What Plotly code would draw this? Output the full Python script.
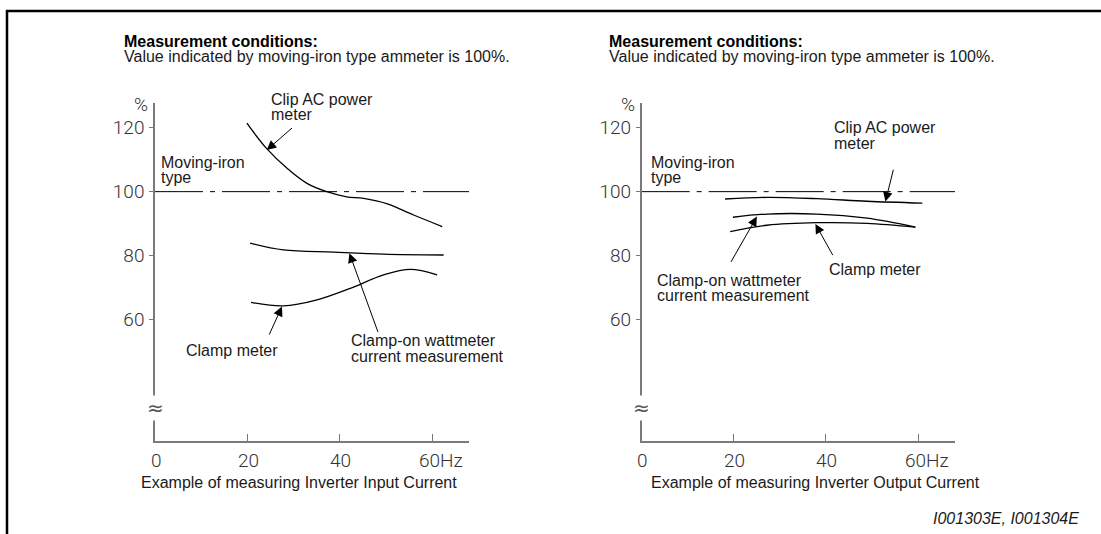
import plotly.graph_objects as go

W, H = 1101, 534

# ---------------- data ----------------
# Left chart: inverter input current
in_clip_x = [19.9, 24.1, 28.6, 32.9, 37.2, 41.5, 45.2, 50.3, 56.0, 62.2]
in_clip_y = [121.4, 113.6, 107.3, 102.6, 100.0, 98.4, 97.9, 96.2, 92.7, 89.1]
in_wattm_x = [20.6, 27.8, 38.7, 49.5, 62.5]
in_wattm_y = [83.9, 81.8, 81.1, 80.5, 80.2]
in_clamp_x = [20.8, 27.8, 35.1, 42.3, 49.5, 55.3, 61.1]
in_clamp_y = [65.4, 64.3, 66.2, 69.8, 74.0, 75.7, 74.0]

# Right chart: inverter output current
out_clip_x = [18.1, 27.2, 38.0, 48.9, 60.9]
out_clip_y = [97.7, 98.2, 97.8, 97.0, 96.4]
out_wattm_x = [19.8, 27.2, 38.0, 48.9, 59.4]
out_wattm_y = [92.0, 93.0, 93.0, 91.7, 88.9]
out_clamp_x = [19.2, 27.2, 38.0, 48.9, 59.4]
out_clamp_y = [87.5, 89.5, 90.3, 90.1, 88.9]

ref_x = [0, 68]
ref_y = [100, 100]

y_tick_vals = [60, 80, 100, 120]
y_tick_text = ["60", "80", "100", "120"]
x_tick_vals = [0, 20, 40, 60]
x_tick_text = ["0", "20", "40", "60Hz"]

Y_RANGE = [22.09, 127.7]
X_RANGE = [0, 68]
BREAK_Y = 32.4

# ---------------- figure ----------------
fig = go.Figure()

AX_COLOR = "#7a7a7a"
TXT = "#1a1a1a"
LBL_FONT = dict(family="Liberation Sans, Arial, sans-serif", size=16, color=TXT)
TICK_FONT = dict(family="Roboto, Liberation Sans, sans-serif", size=19, color="#333333", weight=300)

def add_curve(x, y, xa, ya):
    fig.add_trace(go.Scatter(x=x, y=y, mode="lines", xaxis=xa, yaxis=ya,
                             line=dict(color="black", width=1.3, shape="spline", smoothing=1.0),
                             showlegend=False, hoverinfo="skip"))

for xa, ya in (("x", "y"), ("x2", "y2")):
    fig.add_trace(go.Scatter(x=ref_x, y=ref_y, mode="lines", xaxis=xa, yaxis=ya,
                             line=dict(color="black", width=1, dash="48px,7px,5px,7px"),
                             showlegend=False, hoverinfo="skip"))

add_curve(in_clip_x, in_clip_y, "x", "y")
add_curve(in_wattm_x, in_wattm_y, "x", "y")
add_curve(in_clamp_x, in_clamp_y, "x", "y")
add_curve(out_clip_x, out_clip_y, "x2", "y2")
add_curve(out_wattm_x, out_wattm_y, "x2", "y2")
add_curve(out_clamp_x, out_clamp_y, "x2", "y2")

y_dom = [1 - 441 / H, 1 - 103 / H]
xaxis_common = dict(range=X_RANGE, showgrid=False, zeroline=False, showline=True,
                    linecolor=AX_COLOR, linewidth=1.5, ticks="inside", ticklen=7,
                    tickcolor=AX_COLOR, tickwidth=1.2, tickvals=x_tick_vals[1:],
                    showticklabels=False, fixedrange=True)
yaxis_common = dict(range=Y_RANGE, domain=y_dom, showgrid=False, zeroline=False,
                    showline=True, linecolor=AX_COLOR, linewidth=1.5, ticks="outside",
                    ticklen=4, tickcolor=AX_COLOR, tickwidth=1.2,
                    tickvals=y_tick_vals, ticktext=y_tick_text, tickfont=TICK_FONT,
                    ticklabelstandoff=1, fixedrange=True)

fig.update_layout(
    width=W, height=H, margin=dict(l=0, r=0, t=0, b=0),
    paper_bgcolor="white", plot_bgcolor="white",
    xaxis=dict(domain=[155 / W, 469 / W], anchor="y", **xaxis_common),
    yaxis=dict(anchor="x", **yaxis_common),
    xaxis2=dict(domain=[641.7 / W, 955 / W], anchor="y2", **xaxis_common),
    yaxis2=dict(anchor="x2", **yaxis_common),
)

ann = []

def ptext(text, x, y, xanchor="left", font=None, **kw):
    ann.append(dict(text=text, x=x / W, y=1 - y / H, xref="paper", yref="paper",
                    xanchor=xanchor, yanchor="middle", showarrow=False,
                    font=font or LBL_FONT, **kw))

# x tick labels (data coordinates)
for xa, ya in (("x", "y"), ("x2", "y2")):
    for v, t in zip(x_tick_vals, x_tick_text):
        if t.endswith("Hz"):
            ann.append(dict(text=t, x=v, y=Y_RANGE[0], xref=xa, yref=ya, xanchor="left",
                            yanchor="top", xshift=-15, yshift=-6, showarrow=False, font=TICK_FONT))
        else:
            ann.append(dict(text=t, x=v, y=Y_RANGE[0], xref=xa, yref=ya, xanchor="center",
                            yanchor="top", xshift=1, yshift=-6, showarrow=False, font=TICK_FONT))
    # % label
    ann.append(dict(text="%", x=0, y=Y_RANGE[1], xref=xa, yref=ya, xanchor="right",
                    yanchor="middle", xshift=-5, yshift=-1, showarrow=False, font=TICK_FONT))
    # axis break
    ann.append(dict(text="≈", x=0, y=BREAK_Y, xref=xa, yref=ya, xanchor="center",
                    yanchor="middle", showarrow=False, bgcolor="white", borderpad=0,
                    font=dict(family="DejaVu Sans", size=20, color="#555555")))

# arrows (data coordinates)
def arrow(xa, ya, hx, hy, tx, ty):
    ann.append(dict(x=hx, y=hy, ax=tx, ay=ty, xref=xa, yref=ya, axref=xa, ayref=ya,
                    text="", showarrow=True, arrowhead=2, arrowsize=1.9, arrowwidth=1,
                    arrowcolor="black", standoff=0))

arrow("x", "y", 24.2, 113.0, 30.0, 120.3)
arrow("x", "y", 42.1, 80.75, 48.4, 55.7)
arrow("x", "y", 27.5, 64.1, 24.6, 54.9)
arrow("x2", "y2", 52.9, 96.9, 54.7, 107.3)
arrow("x2", "y2", 25.0, 92.2, 19.2, 77.6)
arrow("x2", "y2", 37.7, 89.9, 41.65, 79.7)

# headers
BOLD = dict(family="Liberation Sans, Arial, sans-serif", size=16, color="black", weight="bold")
ptext("<b>Measurement conditions:</b>", 122, 41.5, font=BOLD)
ptext("Value indicated by moving-iron type ammeter is 100%.", 122, 56)
ptext("<b>Measurement conditions:</b>", 607, 41.5, font=BOLD)
ptext("Value indicated by moving-iron type ammeter is 100%.", 607, 56)

# left chart labels
ptext("Clip AC power", 269, 99)
ptext("meter", 269, 115)
ptext("Moving-iron", 159, 162)
ptext("type", 159, 178)
ptext("Clamp meter", 184, 350)
ptext("Clamp-on wattmeter", 349, 340)
ptext("current measurement", 349, 356)
ptext("Example of measuring Inverter Input Current", 139, 482)

# right chart labels
ptext("Clip AC power", 832, 127)
ptext("meter", 832, 143)
ptext("Moving-iron", 649, 162)
ptext("type", 649, 177)
ptext("Clamp-on wattmeter", 655, 280)
ptext("current measurement", 655, 295)
ptext("Clamp meter", 827, 269)
ptext("Example of measuring Inverter Output Current", 649, 482)

ptext("<i>I001303E, I001304E</i>", 1081, 518, xanchor="right")

fig.update_layout(annotations=ann)

# frame
fig.add_shape(type="line", xref="paper", yref="paper", x0=6 / W, x1=1.0,
              y0=1 - 11 / H, y1=1 - 11 / H, line=dict(color="black", width=2.5))
fig.add_shape(type="line", xref="paper", yref="paper", x0=7 / W, x1=7 / W,
              y0=1 - 10 / H, y1=0, line=dict(color="black", width=2.5))

fig.write_html("out.html", config={"displayModeBar": False},
               post_script="document.body.style.margin='0';document.body.style.overflow='hidden';")
